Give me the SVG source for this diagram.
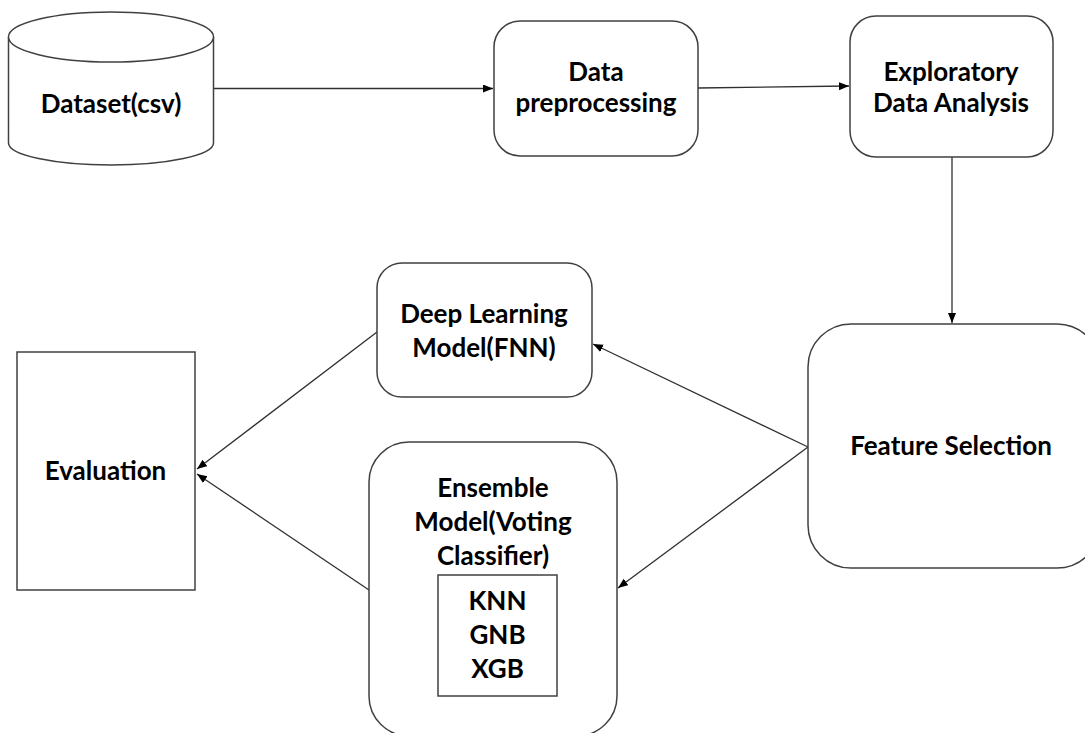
<svg xmlns="http://www.w3.org/2000/svg" width="1085" height="733" viewBox="0 0 1085 733">
<style>
.box{fill:#ffffff;stroke:#404040;stroke-width:1.5}
.lbl{font-family:Lato,"Liberation Sans",sans-serif;font-weight:bold;font-size:26px;fill:#000;text-anchor:middle}
.edge{fill:none;stroke:#303030;stroke-width:1.3;marker-end:url(#ah)}
</style>
<defs>
<marker id="ah" markerUnits="userSpaceOnUse" markerWidth="11" markerHeight="9" refX="10" refY="4" orient="auto">
<path d="M0,0 L10,4 L0,8 z" fill="#000"/>
</marker>
</defs>
<rect width="1085" height="733" fill="#ffffff"/>
<g id="connectors">
<line class="edge" x1="214" y1="88.5" x2="493" y2="88.5"/>
<line class="edge" x1="698" y1="88" x2="849" y2="86"/>
<line class="edge" x1="952" y1="157" x2="952" y2="323"/>
<line class="edge" x1="808" y1="447" x2="593" y2="344"/>
<line class="edge" x1="808" y1="447" x2="618" y2="588"/>
<line class="edge" x1="377" y1="332" x2="197" y2="469"/>
<line class="edge" x1="369" y1="590" x2="197" y2="474"/>
</g>
<g id="dataset">
<path class="box" d="M8.5,37 A102.5,25 0 0 1 213.5,37 L213.5,143 A102.5,22 0 0 1 8.5,143 Z"/>
<path class="box" fill="none" d="M8.5,37 A102.5,25 0 0 0 213.5,37"/>
<text class="lbl" x="111" y="113">Dataset(csv)</text>
</g>
<g id="preprocessing">
<rect class="box" x="494" y="21" width="204" height="135" rx="26"/>
<text class="lbl" x="596" y="81">Data</text>
<text class="lbl" x="596" y="112">preprocessing</text>
</g>
<g id="eda">
<rect class="box" x="850" y="16" width="203" height="141" rx="26"/>
<text class="lbl" x="951" y="81">Exploratory</text>
<text class="lbl" x="951" y="112">Data Analysis</text>
</g>
<g id="feature-selection">
<rect class="box" x="808" y="324" width="292" height="244" rx="43"/>
<text class="lbl" x="951" y="455">Feature Selection</text>
</g>
<g id="deep-learning">
<rect class="box" x="377" y="263" width="215" height="134" rx="25"/>
<text class="lbl" x="484" y="323">Deep Learning</text>
<text class="lbl" x="484" y="357">Model(FNN)</text>
</g>
<g id="evaluation">
<rect class="box" x="17" y="352" width="178" height="238"/>
<text class="lbl" x="105.5" y="480">Evaluation</text>
</g>
<g id="ensemble">
<rect class="box" x="369" y="442" width="248" height="294" rx="40"/>
<text class="lbl" x="493" y="497">Ensemble</text>
<text class="lbl" x="493" y="531">Model(Voting</text>
<text class="lbl" x="493" y="565">Classifier)</text>
<rect class="box" x="438" y="575" width="119" height="121"/>
<text class="lbl" x="497.5" y="610">KNN</text>
<text class="lbl" x="497.5" y="644">GNB</text>
<text class="lbl" x="497.5" y="678">XGB</text>
</g>
</svg>
